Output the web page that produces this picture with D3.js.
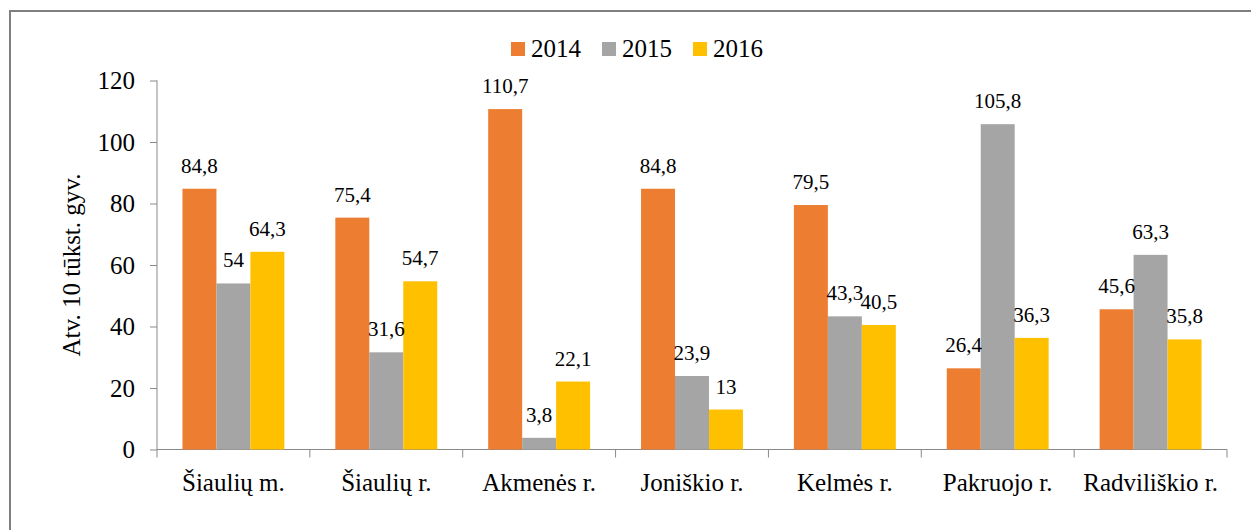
<!DOCTYPE html>
<html>
<head>
<meta charset="utf-8">
<script src="https://cdn.jsdelivr.net/npm/d3@7"></script>
<style>
  body { margin: 0; background: #fff; }
  svg text { font-family: "Liberation Serif", "Times New Roman", Times, serif; fill: #000; }
</style>
</head>
<body>
<svg id="chart" width="1251" height="530"></svg>
<script>
var categories = ["Šiaulių m.", "Šiaulių r.", "Akmenės r.", "Joniškio r.", "Kelmės r.", "Pakruojo r.", "Radviliškio r."];
var years = ["2014", "2015", "2016"];
var values2014 = [84.8, 75.4, 110.7, 84.8, 79.5, 26.4, 45.6];
var values2015 = [54, 31.6, 3.8, 23.9, 43.3, 105.8, 63.3];
var values2016 = [64.3, 54.7, 22.1, 13, 40.5, 36.3, 35.8];
var yTicks = [0, 20, 40, 60, 80, 100, 120];
var colors = ["#ED7D31", "#A5A5A5", "#FFC000"];

(function() {
var series = [values2014, values2015, values2016];

var svg = d3.select("#chart"),
    plotLeft = 157, plotRight = 1227, plotTop = 80.5, plotBottom = 449.5,
    axisColor = "#898989";

// outer frame
svg.append("rect")
    .attr("x", 10).attr("y", 11)
    .attr("width", 1260).attr("height", 540)
    .attr("fill", "none")
    .attr("stroke", "#7f7f7f")
    .attr("stroke-width", 2);

var x = d3.scaleBand().domain(categories).range([plotLeft, plotRight]).paddingInner(0).paddingOuter(0);
var y = d3.scaleLinear().domain([0, 120]).range([plotBottom, plotTop]);
// gap between groups is 150% of a bar
var inner = d3.scaleBand().domain(years).range([0, x.bandwidth()]).paddingInner(0).paddingOuter(0.75);

// y axis
var yAxis = svg.append("g")
    .attr("transform", "translate(" + plotLeft + ",0)")
    .call(d3.axisLeft(y).tickValues(yTicks).tickSize(7).tickPadding(15).tickFormat(d3.format("d")));
yAxis.attr("font-family", null).attr("font-size", null);
yAxis.select(".domain").attr("stroke", axisColor).attr("d", "M0," + plotTop + "V" + plotBottom);
yAxis.selectAll(".tick line").attr("stroke", axisColor);
yAxis.selectAll(".tick text").style("font-size", "25px").attr("fill", "#000");

// x axis
var xg = svg.append("g");
xg.append("line")
    .attr("x1", plotLeft).attr("x2", plotRight)
    .attr("y1", plotBottom).attr("y2", plotBottom)
    .attr("stroke", axisColor);
var bounds = categories.map(function(c) { return x(c); }).concat([plotRight]);
xg.selectAll(".xtick")
    .data(bounds)
    .enter().append("line")
      .attr("x1", function(d) { return d; }).attr("x2", function(d) { return d; })
      .attr("y1", plotBottom).attr("y2", plotBottom + 8)
      .attr("stroke", axisColor);
xg.selectAll(".xlabel")
    .data(categories)
    .enter().append("text")
      .attr("x", function(d) { return x(d) + x.bandwidth() / 2; })
      .attr("y", 491)
      .attr("text-anchor", "middle")
      .style("font-size", "25px")
      .text(function(d) { return d; });

// axis title
svg.append("text")
    .attr("transform", "translate(80," + ((plotTop + plotBottom) / 2) + ") rotate(-90)")
    .attr("text-anchor", "middle")
    .style("font-size", "25px")
    .text("Atv. 10 tūkst. gyv.");

// bars
var groups = svg.selectAll(".grp")
    .data(categories)
    .enter().append("g")
      .attr("class", "grp")
      .attr("transform", function(d) { return "translate(" + x(d) + ",0)"; });

groups.selectAll("rect")
    .data(function(d, i) { return years.map(function(yr, j) { return { yr: yr, v: series[j][i], j: j }; }); })
    .enter().append("rect")
      .attr("x", function(d) { return inner(d.yr); })
      .attr("width", inner.bandwidth())
      .attr("y", function(d) { return y(d.v); })
      .attr("height", function(d) { return plotBottom - y(d.v); })
      .attr("fill", function(d) { return colors[d.j]; });

groups.selectAll(".lbl")
    .data(function(d, i) { return years.map(function(yr, j) { return { yr: yr, v: series[j][i] }; }); })
    .enter().append("text")
      .attr("class", "lbl")
      .attr("x", function(d) { return inner(d.yr) + inner.bandwidth() / 2; })
      .attr("y", function(d) { return y(d.v) - 16; })
      .attr("text-anchor", "middle")
      .style("font-size", "21px")
      .text(function(d) { return String(d.v).replace(".", ","); });

// legend
var legend = svg.append("g").attr("transform", "translate(511,0)");
var li = legend.selectAll("g")
    .data(years)
    .enter().append("g")
      .attr("transform", function(d, i) { return "translate(" + (i * 91) + ",0)"; });
li.append("rect")
    .attr("x", 0).attr("y", 42)
    .attr("width", 14).attr("height", 14)
    .attr("fill", function(d, i) { return colors[i]; });
li.append("text")
    .attr("x", 20).attr("y", 57)
    .style("font-size", "25px")
    .text(function(d) { return d; });
})();
</script>
</body>
</html>
